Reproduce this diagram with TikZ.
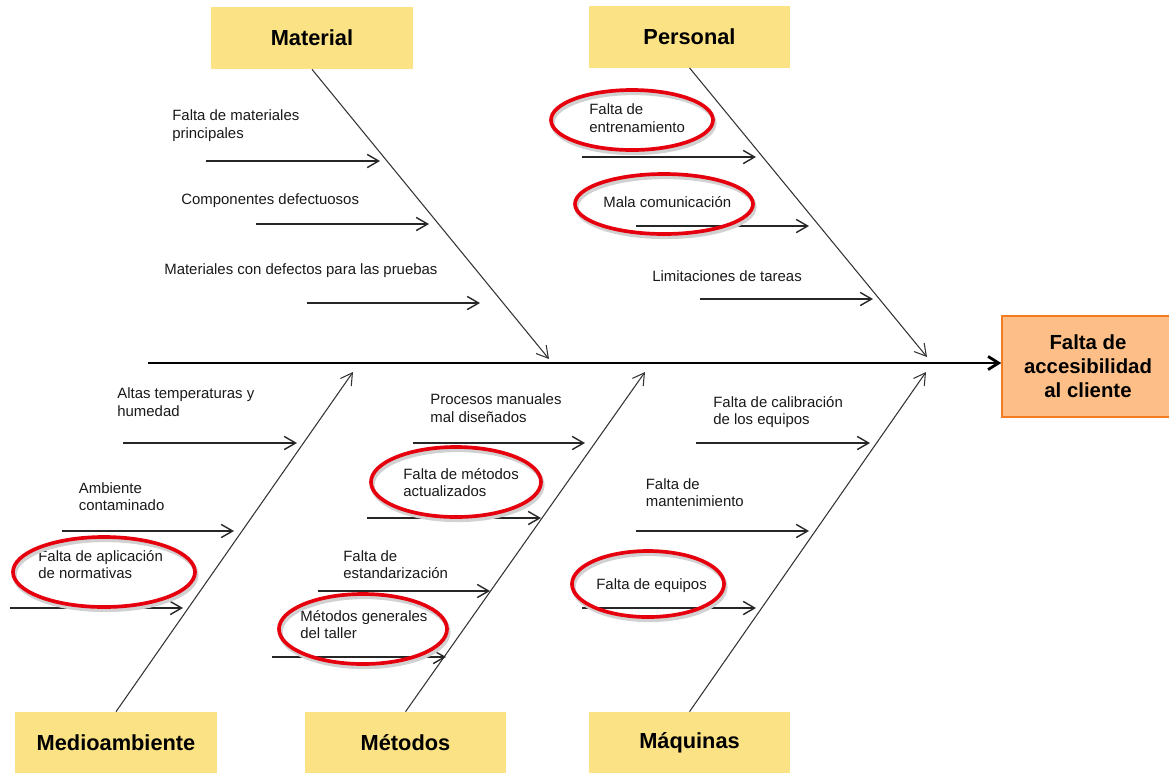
\documentclass[tikz,border=0pt]{standalone}
\usepackage{fontspec}
\setmainfont{Liberation Sans}
\usetikzlibrary{arrows.meta}

\definecolor{cajaamarilla}{HTML}{FBE285}
\definecolor{cajanaranja}{HTML}{FDBF87}
\definecolor{bordenaranja}{HTML}{F37B21}
\definecolor{rojoaro}{HTML}{E6000E}

\tikzset{
  categoria/.style={fill=cajaamarilla, minimum width=4.04cm, minimum height=1.24cm,
    inner sep=0pt, font=\fontsize{12.4}{14}\selectfont\bfseries},
  efecto/.style={fill=cajanaranja, draw=bordenaranja, line width=0.9pt,
    minimum width=3.44cm, minimum height=2.02cm, inner sep=0pt, align=center,
    font=\fontsize{11.6}{13.6}\selectfont\bfseries},
  causa/.style={anchor=west, align=left, inner sep=0pt, text=black!90,
    font=\fontsize{8.5}{10}\selectfont},
  eje/.style={line width=1.6pt, -{Straight Barb[length=6pt,width=7.5pt]}},
  espina/.style={line width=0.6pt, draw=black!80, -{Straight Barb[length=6.5pt,width=7.5pt]}},
  flecha/.style={line width=0.8pt, draw=black!85, -{Straight Barb[length=6.5pt,width=7.5pt]}},
  aro/.style={draw=rojoaro, line width=2.1pt},
  aro sombra/.style={draw=black!18, line width=2.4pt},
}

\begin{document}
\begin{tikzpicture}[x=0.02cm, y=-0.02cm]
  \useasboundingbox (0,0) rectangle (1169,772);

  % --- CAJAS DE CATEGORIAS Y EFECTO ---
  \node[categoria] (mat) at (312,38) {Material};
  \node[categoria] (per) at (689.5,36.5) {Personal};
  \node[categoria] (med) at (116,743) {Medioambiente};
  \node[categoria] (met) at (405.5,743) {Métodos};
  \node[categoria] (maq) at (689.5,743) {Máquinas};
  \node[efecto] (efe) at (1088,366.5) {Falta de\\accesibilidad\\al cliente};

  % --- ESPINA CENTRAL ---
  \coordinate (cola) at (148,363);
  \draw[eje] (cola) -- (cola -| efe.west);

  % --- ESPINAS DE CADA CATEGORIA ---
  \coordinate (pMat) at (549,359);
  \coordinate (pPer) at (927,357);
  \coordinate (pMed) at (353,372);
  \coordinate (pMet) at (645,372);
  \coordinate (pMaq) at (926,372);
  \draw[espina] (mat.south) -- (pMat);
  \draw[espina] (per.south) -- (pPer);
  \draw[espina] (med.north) -- (pMed);
  \draw[espina] (met.north) -- (pMet);
  \draw[espina] (maq.north) -- (pMaq);

  % --- CAUSAS (textos) ---
  \foreach \n/\x/\y/\txt in {
      m1/172/125.5/{Falta de materiales\\principales},
      m2/181/201/{Componentes defectuosos},
      m3/164/271/{Materiales con defectos para las pruebas},
      p1/589/118/{Falta de\\entrenamiento},
      p2/603/202/{Mala comunicación},
      p3/652/276/{Limitaciones de tareas},
      e1/117/402/{Altas temperaturas y\\humedad},
      e2/78.5/496.5/{Ambiente\\contaminado},
      e3/38/564.5/{Falta de aplicación\\de normativas},
      t1/430/408/{Procesos manuales\\mal diseñados},
      t2/403/482.5/{Falta de métodos\\actualizados},
      t3/343/564.5/{Falta de\\estandarización},
      t4/300/624.5/{Métodos generales\\del taller},
      q1/713/412/{Falta de calibración\\de los equipos},
      q2/645.5/492.5/{Falta de\\mantenimiento},
      q3/596/586/{Falta de equipos}}
    \node[causa] (\n) at (\x,\y) {\txt};

  % --- CAUSAS (flechas) ---
  \foreach \n/\xa/\xb/\y in {
      m1/206/380/161, m2/256/429/224, m3/307/480/303,
      p1/582/756/157, p2/636/809/226, p3/700/873/299,
      e1/123/297/443, e2/62/234/531, e3/10/183/608,
      t1/413/585/443, t2/367/541/518, t3/318/490/591, t4/272/446/657,
      q1/696/870/443, q2/636/809/531, q3/582/756/608} {
    \coordinate (\n a) at (\xa,\y);
    \coordinate (\n b) at (\xb,\y);
    \draw[flecha] (\n a) -- (\n b);
  }

  % --- CAUSAS MARCADAS EN ROJO ---
  \foreach \cx/\cy/\rx/\ry in {632/120/81/30, 664/204/89/30, 104/572/91/35,
      456/482/85/35, 363/629/84/35, 648/584/76/33} {
    \draw[aro sombra] (\cx+1.5,\cy+3) ellipse [x radius=\rx, y radius=\ry];
    \draw[aro] (\cx,\cy) ellipse [x radius=\rx, y radius=\ry];
  }
\end{tikzpicture}
\end{document}
